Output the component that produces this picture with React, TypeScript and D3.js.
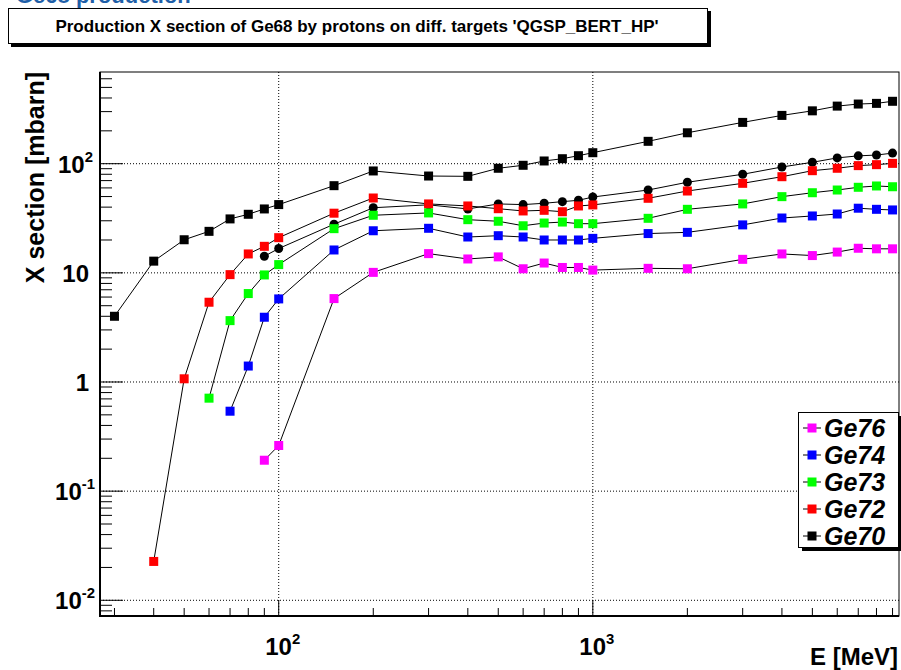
import React from "react";
import * as d3 from "d3";

// Proton energies [MeV]
const energies = [30, 40, 50, 60, 70, 80, 90, 100, 150, 200, 300, 400, 500, 600, 700, 800, 900, 1000, 1500, 2000, 3000, 4000, 5000, 6000, 7000, 8000, 9000];

// Ge68 production cross sections [mbarn]; null where no yield
const ge70 = [4.0, 12.8, 20.1, 24.0, 31.2, 34.4, 38.5, 42.2, 62.9, 85.8, 77.1, 76.6, 90.8, 96.7, 105.9, 111.1, 118.4, 126.1, 160.3, 192, 239, 277, 305, 337, 352, 357, 373];
const geNat = [null, null, null, null, null, null, 14.2, 16.7, 27.9, 39.5, 42.0, 38.5, 42.8, 42.2, 43.4, 44.9, 46.2, 49.5, 57.4, 67.6, 80, 93.3, 103, 113, 118, 120, 125];
const ge72 = [null, 0.0227, 1.07, 5.38, 9.63, 14.9, 17.5, 21.0, 35.2, 48.5, 42.8, 41.0, 38.7, 36.9, 37.4, 36.3, 41.0, 41.9, 48.2, 56.2, 66.1, 76, 86.3, 90.8, 96, 98, 100.7];
const ge73 = [null, null, null, 0.711, 3.65, 6.46, 9.57, 11.9, 25.4, 33.7, 35.4, 30.7, 29.7, 27.0, 28.6, 29.2, 28.2, 28.2, 31.6, 38.2, 42.8, 49.9, 54.2, 57.4, 60.8, 62.5, 61.5];
const ge74 = [null, null, null, null, 0.54, 1.40, 3.92, 5.77, 16.2, 24.3, 25.6, 21.3, 21.9, 21.3, 20.0, 20.0, 20.0, 20.7, 22.9, 23.5, 27.5, 31.8, 33.2, 34.6, 39.1, 38.2, 37.7];
const ge76 = [null, null, null, null, null, null, 0.192, 0.262, 5.81, 10.1, 15.0, 13.4, 14.0, 10.9, 12.3, 11.2, 11.2, 10.6, 11.0, 10.9, 13.3, 14.9, 14.4, 15.5, 16.8, 16.6, 16.6];

const legendNames = ["Ge76", "Ge74", "Ge73", "Ge72", "Ge70"];
const legendColors = ["#ff00ff", "#0000ff", "#00ff00", "#ff0000", "#000000"];

const yMajor = [0.01, 0.1, 1, 10, 100];
const xMajor = [100, 1000];

const W = 901;
const H = 670;
const frame = { left: 100, right: 899, top: 72, bottom: 616 };

const x = d3.scaleLog().domain([26.98, 9436]).range([frame.left, frame.right]);
const y = d3.scaleLog().domain([0.00718, 692]).range([frame.bottom, frame.top]);

const FONT = "'Liberation Sans', Arial, Helvetica, sans-serif";

type Series = { values: (number | null)[]; color: string; marker: "square" | "circle" };

// draw order: natural Ge circles underneath, isotopes on top
const series: Series[] = [
  { values: geNat, color: "#000000", marker: "circle" },
  { values: ge70, color: "#000000", marker: "square" },
  { values: ge72, color: "#ff0000", marker: "square" },
  { values: ge73, color: "#00ff00", marker: "square" },
  { values: ge74, color: "#0000ff", marker: "square" },
  { values: ge76, color: "#ff00ff", marker: "square" },
];

function minorTicks(lo: number, hi: number) {
  const out: number[] = [];
  for (let e = Math.floor(Math.log10(lo)); e <= Math.ceil(Math.log10(hi)); e++) {
    for (let m = 1; m <= 9; m++) {
      const v = m * Math.pow(10, e);
      if (v >= lo && v <= hi) out.push(v);
    }
  }
  return out;
}

function Pow({ exp, ...rest }: { exp: string; [k: string]: any }) {
  return (
    <text {...rest}>
      10
      <tspan fontSize="0.62em" dy="-0.75em">{exp}</tspan>
    </text>
  );
}

export default function App() {
  const line = d3
    .line<[number, number | null]>()
    .defined((d) => d[1] != null)
    .x((d) => x(d[0]))
    .y((d) => y(d[1] as number));

  const xMinor = minorTicks(x.domain()[0], x.domain()[1]);
  const yMinor = minorTicks(y.domain()[0], y.domain()[1]);
  const S = 9;

  const legend = { x: 798, y: 412, w: 100, h: 135 };

  return (
    <svg
      width={W}
      height={H}
      style={{ position: "absolute", left: 0, top: 0, background: "#fff" }}
      fontFamily={FONT}
    >
      <rect width={W} height={H} fill="#fff" />
      {/* canvas heading, mostly above the page edge */}
      <text x={16} y={3} fontSize={22} fontWeight="bold" fill="#1f5fa8">
        Ge68 production
      </text>

      {/* title box */}
      <rect x={11} y={11} width={700} height={36} fill="#000" />
      <rect x={8.5} y={8.5} width={699} height={35} fill="#fff" stroke="#000" strokeWidth={1} />
      <text x={357} y={32} fontSize={17} fontWeight="bold" textAnchor="middle">
        Production X section of Ge68 by protons on diff. targets 'QGSP_BERT_HP'
      </text>

      {/* grid */}
      {yMajor.map((v) => (
        <line key={"gy" + v} x1={frame.left} x2={frame.right} y1={y(v)} y2={y(v)} stroke="#000" strokeDasharray="1,2" strokeWidth={1} />
      ))}
      {xMajor.map((v) => (
        <line key={"gx" + v} x1={x(v)} x2={x(v)} y1={frame.top} y2={frame.bottom} stroke="#000" strokeDasharray="1,2" strokeWidth={1} />
      ))}

      {/* frame */}
      <rect x={frame.left} y={frame.top} width={frame.right - frame.left} height={frame.bottom - frame.top} fill="none" stroke="#000" strokeWidth={1} />
      <line x1={frame.left} x2={frame.left} y1={frame.top} y2={frame.bottom + 1} stroke="#000" strokeWidth={2} />
      <line x1={frame.left - 1} x2={frame.right} y1={frame.bottom} y2={frame.bottom} stroke="#000" strokeWidth={2} />

      {/* y ticks */}
      {yMinor.map((v) => {
        const major = yMajor.includes(v);
        return <line key={"ty" + v} x1={frame.left} x2={frame.left + (major ? 23 : 12)} y1={y(v)} y2={y(v)} stroke="#000" strokeWidth={1} />;
      })}
      {/* x ticks */}
      {xMinor.map((v) => {
        const major = xMajor.includes(v);
        return <line key={"tx" + v} x1={x(v)} x2={x(v)} y1={frame.bottom} y2={frame.bottom - (major ? 16 : 8)} stroke="#000" strokeWidth={1} />;
      })}

      {/* y tick labels */}
      <g fontSize={24} fontWeight="bold" textAnchor="end">
        <Pow exp="2" x={93} y={y(100) + 9} />
        <text x={89} y={y(10) + 9}>10</text>
        <text x={89} y={y(1) + 9}>1</text>
        <Pow exp="-1" x={95} y={y(0.1) + 9} />
        <Pow exp="-2" x={95} y={y(0.01) + 9} />
      </g>
      {/* x tick labels */}
      <g fontSize={24} fontWeight="bold" textAnchor="middle">
        <Pow exp="2" x={x(100) + 4} y={655} />
        <Pow exp="3" x={x(1000) + 4} y={655} />
      </g>

      {/* axis titles */}
      <text x={898} y={665} fontSize={24} fontWeight="bold" textAnchor="end">
        E [MeV]
      </text>
      <text transform={`translate(44,72) rotate(-90)`} fontSize={25} fontWeight="bold" textAnchor="end">
        X section [mbarn]
      </text>

      {/* series */}
      {series.map((s, i) => {
        const pts = energies.map((e, k) => [e, s.values[k]] as [number, number | null]);
        return (
          <g key={"s" + i}>
            <path d={line(pts) || ""} fill="none" stroke="#000" strokeWidth={1} />
            {pts
              .filter((p) => p[1] != null)
              .map((p, k) =>
                s.marker === "square" ? (
                  <rect key={k} x={x(p[0]) - S / 2} y={y(p[1] as number) - S / 2} width={S} height={S} fill={s.color} />
                ) : (
                  <circle key={k} cx={x(p[0])} cy={y(p[1] as number)} r={4.5} fill={s.color} />
                )
              )}
          </g>
        );
      })}

      {/* legend */}
      <rect x={legend.x + 4} y={legend.y + 4} width={legend.w} height={legend.h} fill="#000" />
      <rect x={legend.x + 0.5} y={legend.y + 0.5} width={legend.w} height={legend.h} fill="#fff" stroke="#000" strokeWidth={1} />
      {legendNames.map((name, i) => {
        const cy = legend.y + 16 + i * 27;
        return (
          <g key={name}>
            <line x1={legend.x + 5} x2={legend.x + 23} y1={cy} y2={cy} stroke="#000" strokeWidth={1} />
            <rect x={legend.x + 14 - S / 2} y={cy - S / 2} width={S} height={S} fill={legendColors[i]} />
            <text x={legend.x + 26} y={cy + 9} fontSize={25} fontWeight="bold" fontStyle="italic">
              {name}
            </text>
          </g>
        );
      })}
    </svg>
  );
}
